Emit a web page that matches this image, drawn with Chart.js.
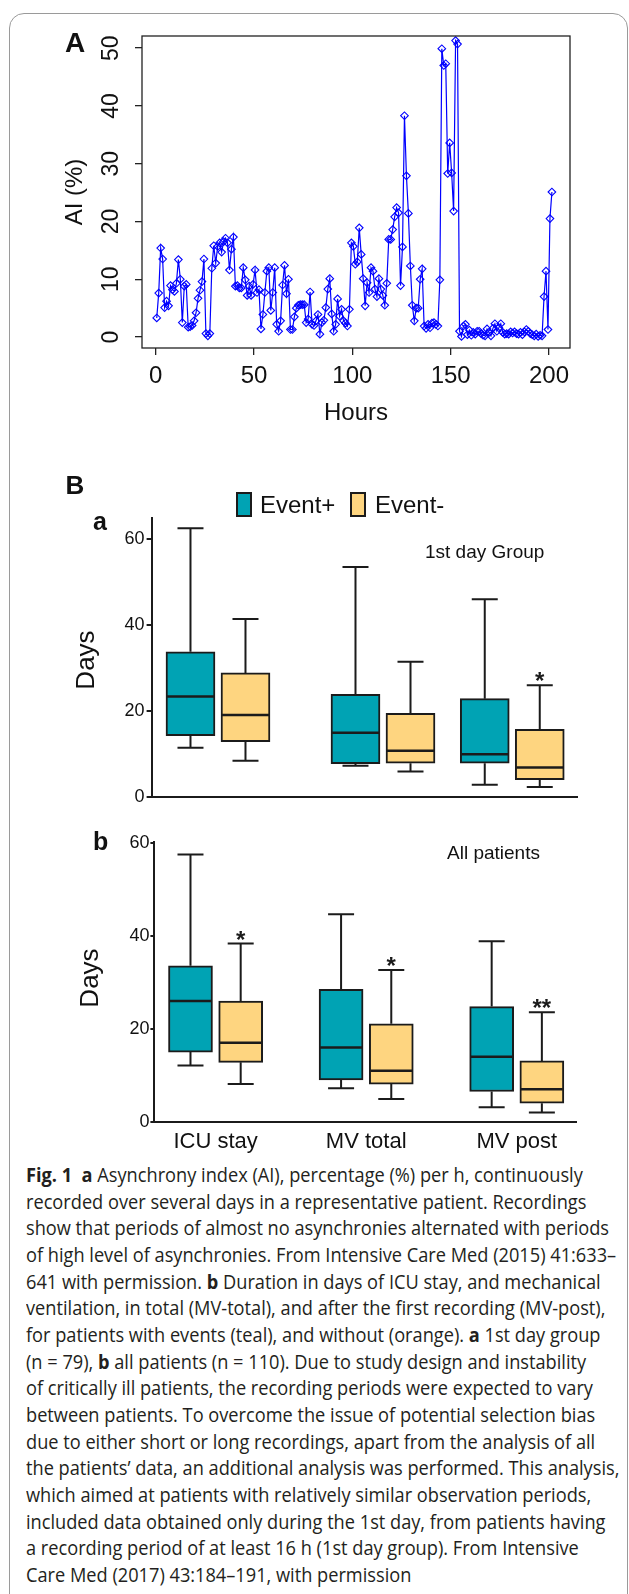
<!DOCTYPE html>
<html>
<head>
<meta charset="utf-8">
<script src="https://cdn.jsdelivr.net/npm/chart.js"></script>
<style>
  html, body { margin: 0; padding: 0; background: #fff; }
  body { width: 629px; height: 1594px; position: relative; overflow: hidden;
         font-family: "Liberation Sans", Arial, sans-serif; color: #111; }
  .frame { position: absolute; left: 9px; top: 13px; width: 619px; height: 1640px;
           box-sizing: border-box; border: 1px solid #9a9a9a; border-radius: 15px; }
  canvas { position: absolute; left: 0; }
  .lbl { position: absolute; white-space: nowrap; line-height: 1; }
  .c { transform: translate(-50%, -50%); }
  .rot { transform: translate(-50%, -50%) rotate(-90deg); }
  .key { position: absolute; top: 492px; width: 16px; height: 25px; box-sizing: border-box; border: 2px solid #1b1b1b; }
  #caption { position: absolute; left: 26px; top: 1162px; font-family: "Open Sans", sans-serif;
             font-size: 20px; line-height: 26.67px; color: #231f20; transform-origin: 0 0; }
  #caption div { white-space: nowrap; }
</style>
</head>
<body>
<div class="frame"></div>

<canvas id="chartA" width="629" height="430" style="top:0"></canvas>
<canvas id="chartBa" width="629" height="380" style="top:430px"></canvas>
<canvas id="chartBb" width="629" height="345" style="top:810px"></canvas>

<div class="lbl c" style="left:75px;top:43px;font-size:28px;font-weight:bold">A</div>
<div class="lbl rot" style="left:74px;top:192px;font-size:24px">AI (%)</div>
<div class="lbl c" style="left:356px;top:412px;font-size:24px">Hours</div>

<div class="lbl c" style="left:75px;top:485px;font-size:26px;font-weight:bold">B</div>
<div class="key" style="left:236px;background:#00a3b4"></div>
<div class="lbl" style="left:260px;top:493px;font-size:24px">Event+</div>
<div class="key" style="left:350px;background:#fed580"></div>
<div class="lbl" style="left:375px;top:493px;font-size:24px">Event-</div>

<div class="lbl" style="left:93px;top:509px;font-size:25px;font-weight:bold">a</div>
<div class="lbl rot" style="left:85px;top:660px;font-size:26px">Days</div>
<div class="lbl" style="left:425px;top:542px;font-size:19px">1st day Group</div>

<div class="lbl" style="left:93px;top:829px;font-size:25px;font-weight:bold">b</div>
<div class="lbl rot" style="left:89px;top:978px;font-size:26px">Days</div>
<div class="lbl" style="left:447px;top:843px;font-size:19px">All patients</div>

<div id="caption">
<div><b>Fig. 1</b>&nbsp; <b>a</b> Asynchrony index (AI), percentage (%) per h, continuously</div>
<div>recorded over several days in a representative patient. Recordings</div>
<div><span id="refLine">show that periods of almost no asynchronies alternated with periods</span></div>
<div>of high level of asynchronies. From Intensive Care Med (2015) 41:633–</div>
<div>641 with permission. <b>b</b> Duration in days of ICU stay, and mechanical</div>
<div>ventilation, in total (MV-total), and after the first recording (MV-post),</div>
<div>for patients with events (teal), and without (orange). <b>a</b> 1st day group</div>
<div>(n = 79), <b>b</b> all patients (n = 110). Due to study design and instability</div>
<div>of critically ill patients, the recording periods were expected to vary</div>
<div>between patients. To overcome the issue of potential selection bias</div>
<div>due to either short or long recordings, apart from the analysis of all</div>
<div>the patients’ data, an additional analysis was performed. This analysis,</div>
<div>which aimed at patients with relatively similar observation periods,</div>
<div>included data obtained only during the 1st day, from patients having</div>
<div>a recording period of at least 16 h (1st day group). From Intensive</div>
<div>Care Med (2017) 43:184–191, with permission</div>
</div>

<script>
// panel A: asynchrony index per hour
var FIRST_HOUR = 0.5;
var AI_PERCENT = [
    3.3, 7.6, 15.4, 13.5, 5.1, 6.2, 5.4, 8.9, 8.2, 7.9,
    9.3, 13.4, 10.0, 2.5, 8.8, 9.1, 1.7, 1.8, 2.0, 2.8,
    4.2, 6.7, 8.1, 9.6, 13.5, 0.6, 0.2, 0.6, 11.9, 15.8,
    12.8, 15.7, 16.3, 14.7, 16.5, 17.1, 16.3, 11.6, 15.2, 17.3,
    8.8, 8.9, 8.5, 8.5, 12.0, 9.9, 7.2, 8.8, 7.2, 9.1,
    11.6, 7.7, 8.2, 1.4, 3.9, 7.7, 11.4, 12.0, 4.6, 7.7,
    12.0, 2.2, 1.0, 2.8, 9.0, 12.4, 7.5, 10.0, 1.3, 1.3,
    3.5, 5.0, 5.5, 5.6, 5.6, 5.6, 2.5, 3.1, 7.8, 2.2,
    2.0, 2.8, 3.9, 0.5, 2.5, 2.9, 5.1, 8.3, 10.1, 4.0,
    1.0, 2.2, 6.6, 3.6, 4.8, 2.8, 2.4, 1.9, 4.8, 16.3,
    15.7, 12.6, 13.0, 18.9, 14.3, 10.1, 5.4, 9.4, 7.7, 12.0,
    11.4, 8.3, 7.0, 10.1, 8.3, 7.2, 5.5, 9.3, 16.9, 16.9,
    18.6, 20.8, 22.4, 21.5, 8.9, 15.6, 38.3, 27.9, 21.4, 12.3,
    5.5, 2.8, 5.0, 5.0, 10.0, 11.8, 1.9, 1.5, 2.2, 1.6,
    2.4, 2.5, 2.2, 1.9, 9.9, 49.9, 47.0, 47.3, 28.3, 33.6,
    28.4, 21.8, 51.3, 50.7, 1.0, 0.1,
    1.9, 2.2, 0.4, 1.2, 0.3, 0.8, 0.5, 1.0, 1.0, 0.6,
    0.3, 0.2, 1.4, 0.8, 0.2, 1.5, 2.3, 1.0, 1.6, 2.3,
    0.8, 0.5, 0.6, 0.5, 0.9, 0.7, 0.9, 0.6, 0.5, 0.8,
    0.4, 0.9, 1.3, 1.0, 0.6, 0.4, 0.2, 0.5, 0.1, 0.3, 0.2,
    7.0, 11.4, 1.3, 20.5, 25.1
];
var HOUR_TICKS = [0, 50, 100, 150, 200];
var AI_TICKS = [0, 10, 20, 30, 40, 50];

// panel B: [min, q1, median, q3, max] per category, days
var CATEGORIES = ['ICU stay', 'MV total', 'MV post'];
var DAY1_EVENT_POS = [[11.5, 14.3, 23.4, 33.8, 62.5], [7.3, 7.8, 15.0, 23.9, 53.5], [2.9, 7.9, 10.0, 22.9, 46.0]];
var DAY1_EVENT_NEG = [[8.5, 12.9, 19.1, 28.9, 41.4], [6.0, 7.9, 10.8, 19.5, 31.5], [2.4, 4.1, 6.9, 15.8, 26.0]];
var DAY1_STARS_NEG = ['', '', '*'];
var ALL_EVENT_POS = [[12.1, 15.0, 26.0, 33.6, 57.6], [7.2, 9.0, 16.0, 28.5, 44.7], [3.1, 6.5, 14.0, 24.8, 38.9]];
var ALL_EVENT_NEG = [[8.1, 12.8, 17.0, 26.0, 38.4], [4.9, 8.1, 11.0, 21.1, 32.7], [2.0, 4.0, 7.0, 13.1, 23.6]];
var ALL_STARS_NEG = ['*', '*', '**'];
var DAYS_TICKS = [0, 20, 40, 60];

// layout of the groups along the hidden x axis
var DAY1_GROUP_X = [1, 4, 6.35];
var ALL_GROUP_X = [1, 4, 7];

var TEAL = '#00a3b4';
var ORANGE = '#fed580';
var INK = '#1b1b1b';
var FONT = '"Liberation Sans", Arial, sans-serif';

Chart.defaults.font.family = FONT;
Chart.defaults.color = '#111';

function setTicks(values) {
    return function(scale) {
        scale.ticks = values.map(function(v) { return {value: v}; });
    };
}

var framePlugin = {
    id: 'frame',
    afterDraw: function(chart) {
        var a = chart.chartArea, ctx = chart.ctx;
        ctx.save();
        ctx.strokeStyle = '#222';
        ctx.lineWidth = 1.3;
        ctx.strokeRect(a.left, a.top, a.right - a.left, a.bottom - a.top);
        ctx.restore();
    }
};

var rotatedYTicks = {
    id: 'rotatedYTicks',
    afterDraw: function(chart) {
        var ctx = chart.ctx, y = chart.scales.y;
        var labelX = chart.chartArea.left - 30;
        ctx.save();
        ctx.fillStyle = '#111';
        ctx.font = '23px ' + FONT;
        ctx.textAlign = 'center';
        ctx.textBaseline = 'middle';
        y.ticks.forEach(function(t) {
            ctx.save();
            ctx.translate(labelX, y.getPixelForValue(t.value));
            ctx.rotate(-Math.PI / 2);
            ctx.fillText(String(t.value), 0, 0);
            ctx.restore();
        });
        ctx.restore();
    }
};

function buildLineChart() {
    var points = AI_PERCENT.map(function(v, i) { return {x: FIRST_HOUR + i, y: v}; });

    new Chart(document.getElementById('chartA'), {
        type: 'line',
        data: {
            datasets: [{
                data: points,
                borderColor: '#0000ff',
                borderWidth: 1.2,
                tension: 0,
                pointStyle: 'rectRot',
                pointRadius: 3.8,
                pointBorderWidth: 1.1,
                pointBorderColor: '#0000ff',
                pointBackgroundColor: 'rgba(255,255,255,0)'
            }]
        },
        options: {
            responsive: false,
            animation: false,
            devicePixelRatio: 1,
            layout: {padding: {left: 0, right: 59, top: 36, bottom: 0}},
            plugins: {legend: {display: false}, tooltip: {enabled: false}},
            scales: {
                x: {
                    type: 'linear', min: -7, max: 210.7,
                    afterBuildTicks: setTicks(HOUR_TICKS),
                    afterFit: function(s) { s.height = 82; },
                    grid: {drawOnChartArea: false, color: '#222', lineWidth: 1.3, tickLength: 7},
                    border: {display: false},
                    ticks: {font: {size: 24}, color: '#111', padding: 7, autoSkip: false, maxRotation: 0}
                },
                y: {
                    type: 'linear', min: -1.9, max: 52.1,
                    afterBuildTicks: setTicks(AI_TICKS),
                    afterFit: function(s) { s.width = 142; },
                    grid: {drawOnChartArea: false, color: '#222', lineWidth: 1.3, tickLength: 7},
                    border: {display: false},
                    ticks: {display: false}
                }
            }
        },
        plugins: [framePlugin, rotatedYTicks]
    });
}

var whiskerPlugin = {
    id: 'whiskers',
    afterDatasetsDraw: function(chart) {
        var ctx = chart.ctx, ys = chart.scales.y;
        var cap = 13;
        chart.data.datasets.forEach(function(ds, d) {
            var meta = chart.getDatasetMeta(d);
            meta.data.forEach(function(bar, i) {
                var s = ds.summary[i];
                var x = bar.x, half = bar.width / 2;
                var yMin = ys.getPixelForValue(s[0]), yQ1 = ys.getPixelForValue(s[1]);
                var yMed = ys.getPixelForValue(s[2]), yQ3 = ys.getPixelForValue(s[3]);
                var yMax = ys.getPixelForValue(s[4]);
                ctx.save();
                ctx.strokeStyle = INK;
                ctx.lineWidth = 2;
                ctx.beginPath();
                ctx.moveTo(x, yQ3); ctx.lineTo(x, yMax);
                ctx.moveTo(x - cap, yMax); ctx.lineTo(x + cap, yMax);
                ctx.moveTo(x, yQ1); ctx.lineTo(x, yMin);
                ctx.moveTo(x - cap, yMin); ctx.lineTo(x + cap, yMin);
                ctx.stroke();
                ctx.lineWidth = 2.5;
                ctx.beginPath();
                ctx.moveTo(x - half + 1, yMed); ctx.lineTo(x + half - 1, yMed);
                ctx.stroke();
                if (ds.stars && ds.stars[i]) {
                    ctx.fillStyle = INK;
                    ctx.font = 'bold 24px ' + FONT;
                    ctx.textAlign = 'center';
                    ctx.textBaseline = 'alphabetic';
                    ctx.fillText(ds.stars[i], x, yMax + 4);
                }
                ctx.restore();
            });
        });
    }
};

function boxDataset(label, boxes, groupX, shift, color, stars, thickness) {
    return {
        label: label,
        data: boxes.map(function(b, i) { return {x: groupX[i] + shift, y: [b[1], b[3]]}; }),
        summary: boxes,
        stars: stars,
        backgroundColor: color,
        borderColor: INK,
        borderWidth: 2,
        borderSkipped: false,
        barThickness: thickness
    };
}

function buildBoxChart(id, pos, neg, starsNeg, groupX, cfg) {
    new Chart(document.getElementById(id), {
        type: 'bar',
        data: {
            datasets: [
                boxDataset('Event+', pos, groupX, -0.5, TEAL, null, cfg.barWidth),
                boxDataset('Event-', neg, groupX, 0.5, ORANGE, starsNeg, cfg.barWidth)
            ]
        },
        options: {
            responsive: false,
            animation: false,
            devicePixelRatio: 1,
            grouped: false,
            layout: {padding: {left: 0, right: cfg.padRight, top: cfg.padTop, bottom: 0}},
            plugins: {legend: {display: false}, tooltip: {enabled: false}},
            scales: {
                x: {
                    type: 'linear', offset: false, min: cfg.xMin, max: cfg.xMax,
                    afterBuildTicks: setTicks(groupX),
                    afterFit: function(s) { s.height = cfg.xHeight; },
                    grid: {display: false, drawTicks: false},
                    border: {display: true, color: INK, width: 2},
                    ticks: {
                        display: cfg.showLabels, autoSkip: false, maxRotation: 0,
                        font: {size: 22}, color: '#111', padding: 7,
                        callback: function(v, i) { return CATEGORIES[i]; }
                    }
                },
                y: {
                    min: 0, max: cfg.yMax,
                    afterBuildTicks: setTicks(DAYS_TICKS),
                    afterFit: function(s) { s.width = cfg.left; },
                    grid: {drawOnChartArea: false, color: INK, lineWidth: 2, tickLength: cfg.tickLen},
                    border: {display: true, color: INK, width: 2},
                    ticks: {font: {size: 18}, color: '#111', padding: cfg.tickPad}
                }
            }
        },
        plugins: [whiskerPlugin]
    });
}

function fitCaption() {
    var ref = document.getElementById('refLine');
    var w = ref.getBoundingClientRect().width;
    document.getElementById('caption').style.transform = 'scaleX(' + (583 / w) + ')';
}

buildLineChart();
buildBoxChart('chartBa', DAY1_EVENT_POS, DAY1_EVENT_NEG, DAY1_STARS_NEG, DAY1_GROUP_X, {
    barWidth: 49, padRight: 51.4, padTop: 87.6, xMin: -0.207, xMax: 7.538, xHeight: 10.7,
    showLabels: false, yMax: 65, left: 151.6, tickLen: 5, tickPad: 2
});
buildBoxChart('chartBb', ALL_EVENT_POS, ALL_EVENT_NEG, ALL_STARS_NEG, ALL_GROUP_X, {
    barWidth: 44, padRight: 53, padTop: 31.7, xMin: -0.219, xMax: 8.18, xHeight: 33.3,
    showLabels: true, yMax: 60.34, left: 154.4, tickLen: 4, tickPad: 1
});
fitCaption();
</script>
</body>
</html>
